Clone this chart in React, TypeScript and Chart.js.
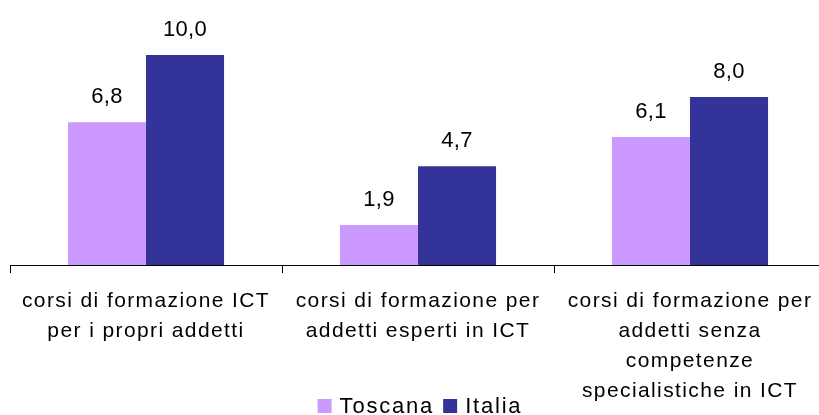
import React, { useEffect, useRef } from "react";
import { Chart, registerables } from "chart.js";

Chart.register(...registerables);

const categories: string[][] = [
  ["corsi di formazione ICT", "per i propri addetti"],
  ["corsi di formazione per", "addetti esperti in ICT"],
  ["corsi di formazione per", "addetti senza", "competenze", "specialistiche in ICT"],
];
const toscana: number[] = [6.8, 1.9, 6.1];
const italia: number[] = [10.0, 4.7, 8.0];
const seriesNames: string[] = ["Toscana", "Italia"];
const seriesColors: string[] = ["#CC99FF", "#333399"];

const FONT = "'Liberation Sans', Arial, sans-serif";

const spacing = {
  id: "spacing",
  beforeLayout(chart: any) {
    chart.ctx.letterSpacing = "1.4px";
  },
  beforeDraw(chart: any) {
    chart.ctx.letterSpacing = "1.4px";
  },
};

const dataLabels = {
  id: "dataLabels",
  afterDatasetsDraw(chart: any) {
    const ctx = chart.ctx;
    ctx.save();
    ctx.letterSpacing = "0.3px";
    ctx.font = `22px ${FONT}`;
    ctx.fillStyle = "#000";
    ctx.textAlign = "center";
    ctx.textBaseline = "alphabetic";
    chart.data.datasets.forEach((ds: any, i: number) => {
      const meta = chart.getDatasetMeta(i);
      meta.data.forEach((el: any, j: number) => {
        const v = ds.data[j] as number;
        ctx.fillText(v.toFixed(1).replace(".", ","), el.x, el.y - 19);
      });
    });
    ctx.restore();
  },
};

const bottomLegend = {
  id: "bottomLegend",
  afterDraw(chart: any) {
    const ctx = chart.ctx;
    ctx.save();
    ctx.letterSpacing = "1.8px";
    ctx.font = `22px ${FONT}`;
    ctx.textBaseline = "alphabetic";
    ctx.textAlign = "left";
    const box = 14;
    const gapText = 8;
    const gapItem = 9;
    const items = chart.data.datasets.map((ds: any) => ({
      label: ds.label,
      color: ds.backgroundColor,
      w: ctx.measureText(ds.label).width,
    }));
    let total = 0;
    items.forEach((it: any, i: number) => {
      total += box + gapText + it.w + (i < items.length - 1 ? gapItem : 0);
    });
    let x = 420 - total / 2;
    const baseline = 413;
    items.forEach((it: any) => {
      ctx.fillStyle = it.color;
      ctx.fillRect(x, baseline - box, box, box);
      x += box + gapText;
      ctx.fillStyle = "#000";
      ctx.fillText(it.label, x, baseline);
      x += it.w + gapItem;
    });
    ctx.restore();
  },
};

export default function App() {
  const ref = useRef<HTMLCanvasElement>(null);
  useEffect(() => {
    if (!ref.current) return;
    const chart = new Chart(ref.current, {
      type: "bar",
      data: {
        labels: categories,
        datasets: [
          { label: seriesNames[0], data: toscana, backgroundColor: seriesColors[0] },
          { label: seriesNames[1], data: italia, backgroundColor: seriesColors[1] },
        ],
      },
      options: {
        animation: false,
        responsive: false,
        devicePixelRatio: 1,
        layout: { padding: { top: 13, left: 10, right: 10, bottom: 0 } },
        datasets: {
          bar: { categoryPercentage: 0.574, barPercentage: 1 },
        },
        plugins: {
          legend: { display: false },
          tooltip: { enabled: false },
        },
        scales: {
          x: {
            afterFit: (scale: any) => {
              scale.height = 150;
            },
            border: { display: true, color: "#000", width: 1 },
            grid: {
              display: true,
              drawOnChartArea: false,
              drawTicks: true,
              tickLength: 8,
              color: "#000",
              offset: true,
            },
            ticks: {
              color: "#000",
              font: { family: FONT, size: 21, lineHeight: "30px" },
              padding: 13,
              maxRotation: 0,
              minRotation: 0,
              autoSkip: false,
            },
          },
          y: {
            display: false,
            min: 0,
            max: 12,
          },
        },
      },
      plugins: [spacing, dataLabels, bottomLegend],
    });
    return () => chart.destroy();
  }, []);
  return (
    <div style={{ position: "absolute", left: 0, top: 0, width: 819, height: 415, overflow: "hidden", background: "#fff" }}>
      <canvas ref={ref} width={836} height={415} style={{ display: "block", width: 836, height: 415 }} />
    </div>
  );
}
